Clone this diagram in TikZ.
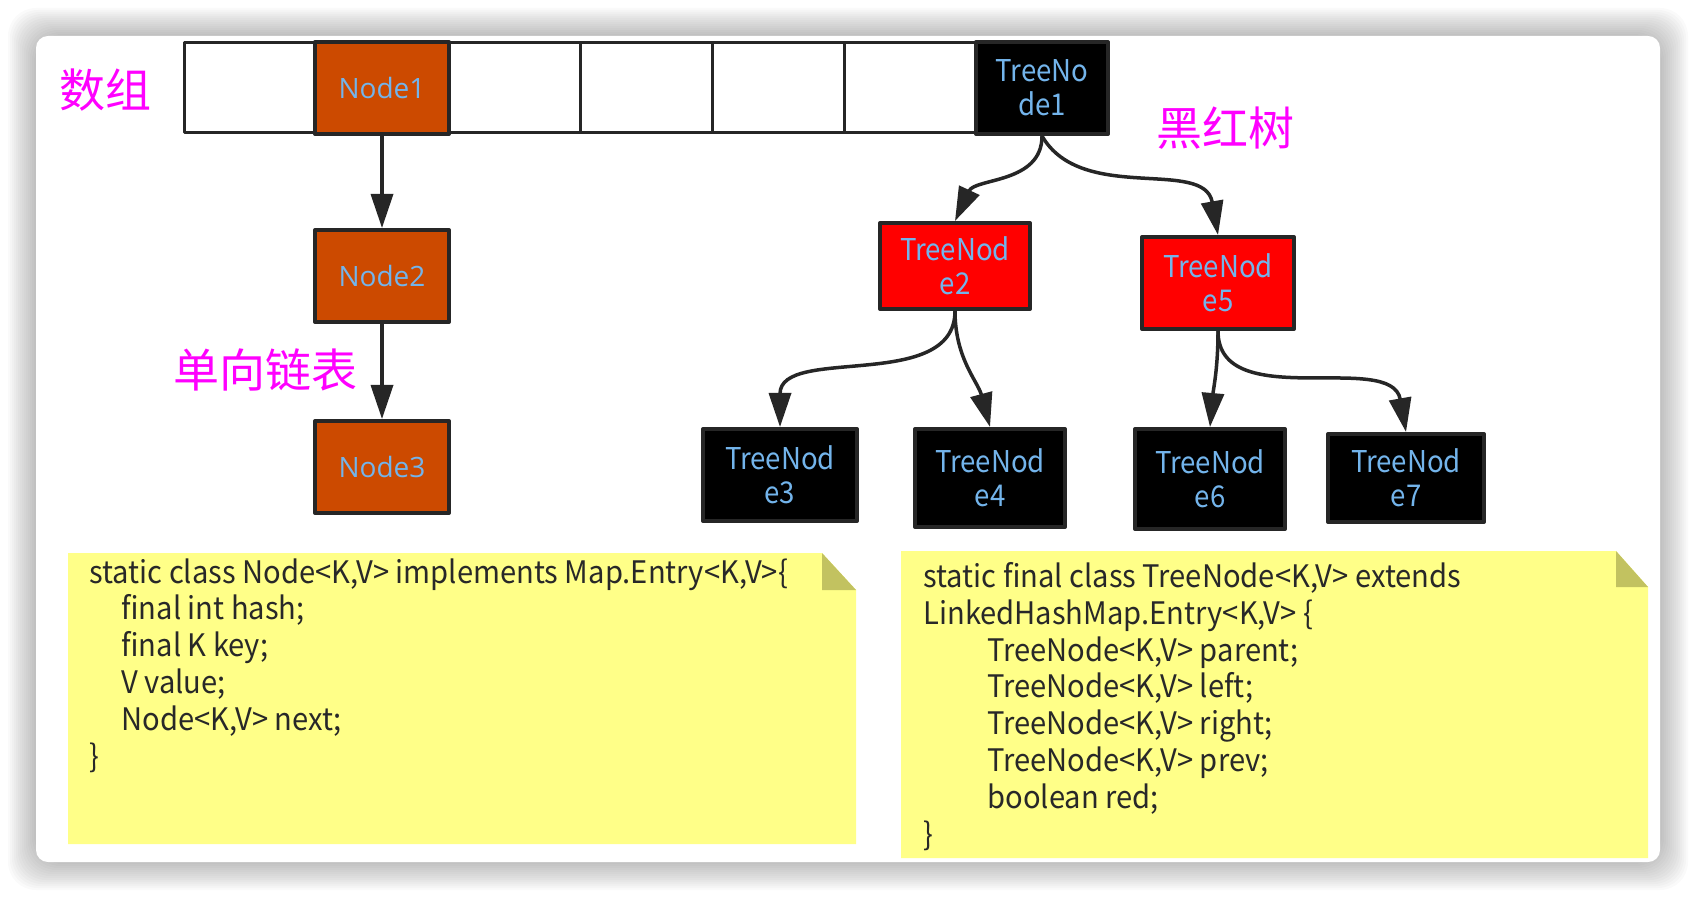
\documentclass[tikz,border=0pt]{standalone}
\usepackage{fontspec}
\setmainfont{Noto Sans CJK SC}
\newfontfamily\listfont{Open Sans}
\newfontfamily\narrowfont[FakeStretch=0.92]{Noto Sans CJK SC}
\newfontfamily\codefont[FakeStretch=0.94]{Noto Sans CJK SC}
\usetikzlibrary{arrows.meta}

\definecolor{arrayorange}{RGB}{204,74,0}
\definecolor{treered}{RGB}{255,0,0}
\definecolor{labelblue}{RGB}{115,180,235}
\definecolor{labelpink}{RGB}{255,0,255}
\definecolor{edgegray}{RGB}{38,38,38}
\definecolor{codegray}{RGB}{40,40,40}
\definecolor{notefill}{RGB}{255,255,136}
\definecolor{notefold}{RGB}{194,194,96}

\begin{document}
\begin{tikzpicture}[x=0.5pt, y=-0.5pt, line join=round,
    cell/.style={draw=edgegray, line width=1.5pt, minimum width=66pt, minimum height=45pt, inner sep=0pt},
    nodebox/.style={draw=edgegray, line width=2pt, inner sep=0pt, align=center, text=labelblue},
    listnode/.style={nodebox, fill=arrayorange, minimum width=67pt, minimum height=46pt, font=\listfont\fontsize{14}{17}\selectfont},
    rednode/.style={nodebox, fill=treered, font=\narrowfont\fontsize{15}{16.8}\selectfont},
    blacknode/.style={nodebox, fill=black, font=\narrowfont\fontsize{15}{16.8}\selectfont},
    cnlabel/.style={text=labelpink, inner sep=0pt, font=\fontsize{23}{27}\selectfont},
    link/.style={draw=edgegray, line width=1.75pt, -{Triangle[length=17pt,width=11pt]}},
    code/.style={anchor=north west, inner sep=0pt, align=left, text=codegray, font=\codefont\fontsize{15.5}{18.4}\selectfont}]

    \useasboundingbox (0,0) rectangle (1696,898);

    % Sombra y tarjeta de fondo
    \foreach \r in {2,4,...,28}
    \fill[black, opacity=0.02, rounded corners=14pt] (36-\r,36-\r) rectangle (1660+\r,862+\r);
    \fill[white, rounded corners=6pt] (36,36) rectangle (1660,862);

    % Notas amarillas con esquina doblada
    \fill[notefill] (68,553) -- (822,553) -- (856,590) -- (856,844) -- (68,844) -- cycle;
    \fill[notefold] (822,553) -- (822,590) -- (856,590) -- cycle;
    \fill[notefill] (901,551) -- (1616,551) -- (1648,587) -- (1648,858) -- (901,858) -- cycle;
    \fill[notefold] (1616,551) -- (1616,587) -- (1648,587) -- cycle;

    % Celdas del array
    \foreach \i in {1,...,7}
    \node[cell] (cell\i) at ({250+132*(\i-1)},88) {};

    % Lista enlazada
    \node[listnode] (node1) at (cell2.center) {Node1};
    \node[listnode] (node2) at (382,276) {Node2};
    \node[listnode] (node3) at (382,467) {Node3};

    % Árbol rojo-negro
    \node[blacknode, minimum width=66pt, minimum height=46pt] (tree1) at (cell7.center) {TreeNo\\de1};
    \node[rednode, minimum width=75pt, minimum height=43pt] (tree2) at (955,266) {TreeNod\\e2};
    \node[rednode, minimum width=76pt, minimum height=46pt] (tree5) at (1218,283) {TreeNod\\e5};
    \node[blacknode, minimum width=77pt, minimum height=46pt] (tree3) at (780,475) {TreeNod\\e3};
    \node[blacknode, minimum width=75pt, minimum height=49pt] (tree4) at (990,478) {TreeNod\\e4};
    \node[blacknode, minimum width=75pt, minimum height=50pt] (tree6) at (1210,479) {TreeNod\\e6};
    \node[blacknode, minimum width=78pt, minimum height=44pt] (tree7) at (1406,478) {TreeNod\\e7};

    % Etiquetas
    \node[cnlabel] (arraylabel) at (105,90) {数组};
    \node[cnlabel] (listlabel) at (265,370) {单向链表};
    \node[cnlabel] (treelabel) at (1225,128) {黑红树};

    % Flechas
    \draw[link] (node1.south) -- (node2.north);
    \draw[link] (node2.south) -- (node3.north);
    \draw[link] (tree1.south) to[out=-90, in=65] (tree2.north);
    \draw[link] (tree1.south) to[out=-60, in=100] (tree5.north);
    \draw[link] (tree2.south) to[out=-90, in=90] (tree3.north);
    \draw[link] (tree2.south) to[out=-90, in=105] (tree4.north);
    \draw[link] (tree5.south) to[out=-90, in=85] (tree6.north);
    \draw[link] (tree5.south) to[out=-90, in=100] (tree7.north);

    % Código de las clases
    \node[code] (nodecode) at (89,558) {static class Node<K,V> implements Map.Entry<K,V>\{\\
      \hspace*{16pt}final int hash;\\
      \hspace*{16pt}final K key;\\
      \hspace*{16pt}V value;\\
      \hspace*{16pt}Node<K,V> next;\\
      \}};
    \node[code] (treecode) at (923,562) {static final class TreeNode<K,V> extends\\
      LinkedHashMap.Entry<K,V> \{\\
      \hspace*{32pt}TreeNode<K,V> parent;\\
      \hspace*{32pt}TreeNode<K,V> left;\\
      \hspace*{32pt}TreeNode<K,V> right;\\
      \hspace*{32pt}TreeNode<K,V> prev;\\
      \hspace*{32pt}boolean red;\\
      \}};

\end{tikzpicture}
\end{document}
